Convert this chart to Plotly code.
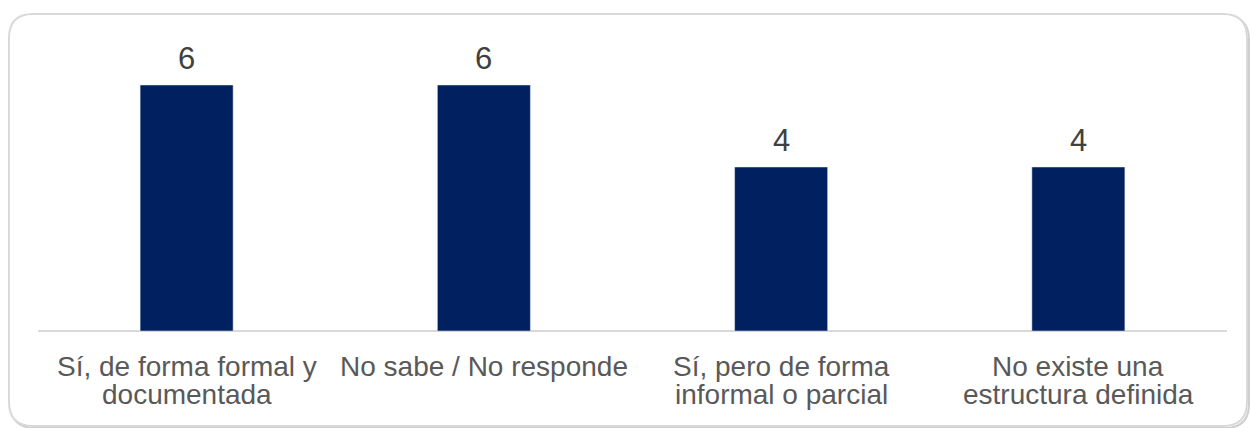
import plotly.graph_objects as go

categories = ["Sí, de forma formal y<br>documentada", "No sabe / No responde",
              "Sí, pero de forma<br>informal o parcial", "No existe una<br>estructura definida"]
values = [6, 6, 4, 4]

W, H = 1250, 428
L, R, T, B = 38, 1227, 30, 331   # plot area in pixels


def px(x):
    return (x - L) / (R - L)


def py(y):
    return (B - y) / (B - T)


def rounded_box(x0, y0, x1, y1, r):
    pts = [
        ("M", [(x0 + r, y0)]), ("L", [(x1 - r, y0)]), ("Q", [(x1, y0), (x1, y0 + r)]),
        ("L", [(x1, y1 - r)]), ("Q", [(x1, y1), (x1 - r, y1)]),
        ("L", [(x0 + r, y1)]), ("Q", [(x0, y1), (x0, y1 - r)]),
        ("L", [(x0, y0 + r)]), ("Q", [(x0, y0), (x0 + r, y0)]),
    ]
    s = ""
    for cmd, p in pts:
        s += cmd + " " + " ".join(f"{px(a):.5f},{py(b):.5f}" for a, b in p) + " "
    return s + "Z"


fig = go.Figure()
fig.add_trace(go.Bar(x=categories, y=values, marker_color="#002060", width=0.313))

# value labels above bars
for c, v in zip(categories, values):
    fig.add_annotation(x=c, y=v, text=str(v), showarrow=False, yanchor="bottom", yshift=7,
                       font=dict(family="Liberation Sans, Arial", size=31, color="#404040"))

# category labels, one annotation per line for tight line spacing
for c in categories:
    for i, line in enumerate(c.split("<br>")):
        fig.add_annotation(x=c, y=0, yref="paper", text=line, showarrow=False,
                           yanchor="middle", yshift=-35 - 28 * i,
                           font=dict(family="Liberation Sans, Arial", size=28, color="#595959"))

# card border with faint shadow
fig.add_shape(type="path", xref="paper", yref="paper", path=rounded_box(11, 16, 1249, 428, 24),
              line=dict(color="#cfcfcf", width=2), layer="below")
fig.add_shape(type="path", xref="paper", yref="paper", path=rounded_box(9, 14, 1247, 426, 24),
              line=dict(color="#d9d9d9", width=2), fillcolor="white", layer="below")

fig.update_layout(
    width=W, height=H,
    margin=dict(l=L, r=W - R, t=T, b=H - B),
    paper_bgcolor="white", plot_bgcolor="rgba(0,0,0,0)",
    showlegend=False,
    bargap=0.687,
)
fig.update_xaxes(showticklabels=False, showgrid=False, showline=False, ticks="")
fig.update_yaxes(range=[0, (B - T) / 41], visible=True, showticklabels=False, showgrid=False,
                 zeroline=True, zerolinecolor="#d9d9d9", zerolinewidth=1.5, showline=False)

fig.write_html("out.html", config={"displayModeBar": False},
               post_script="document.body.style.margin='0px';")
